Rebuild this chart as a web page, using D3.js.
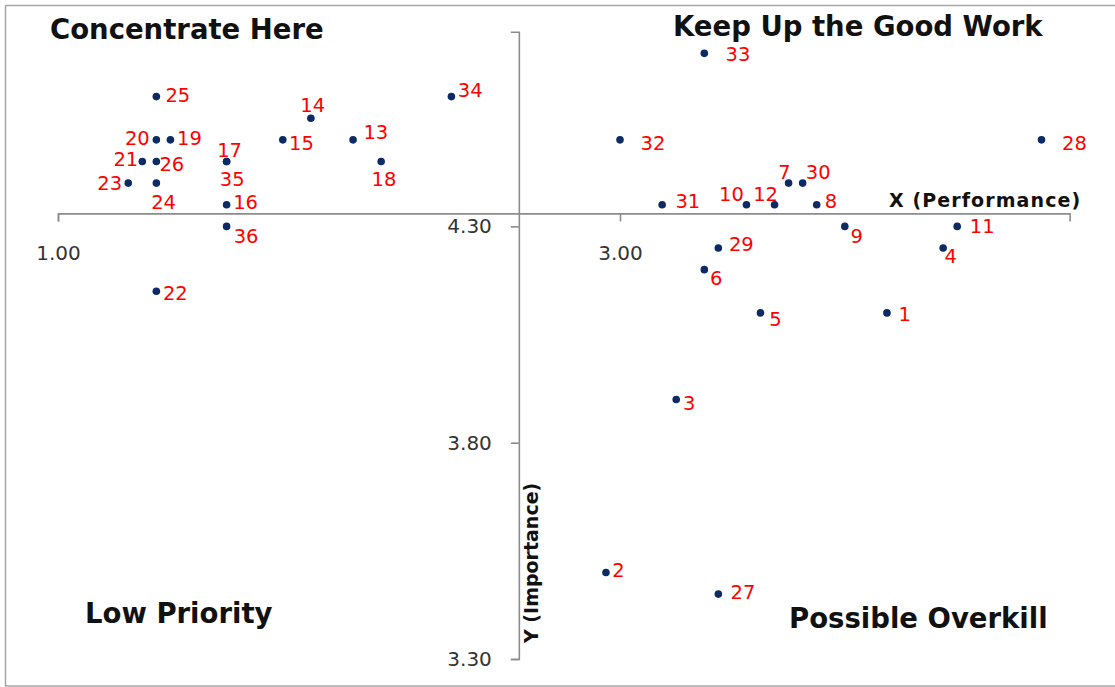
<!DOCTYPE html>
<html>
<head>
<meta charset="utf-8">
<script src="https://cdn.jsdelivr.net/npm/d3@7"></script>
<style>
  html, body { margin: 0; padding: 0; background: #fff; }
  svg { display: block; }
</style>
</head>
<body>
<div id="chart"></div>
<script>
// attribute number 1..36
const ids = d3.range(1, 37);
const performance = [3.95, 2.95, 3.20, 4.15, 3.50, 3.30, 3.60, 3.70, 3.80, 3.45, 4.20, 3.55,
                     2.05, 1.90, 1.80, 1.60, 1.60, 2.15, 1.40, 1.35, 1.30, 1.35, 1.25, 1.35,
                     1.35, 1.35, 3.35, 4.50, 3.35, 3.65, 3.15, 3.00, 3.30, 2.40, 1.60, 1.60];
const importance = [4.10, 3.50, 3.90, 4.25, 4.10, 4.20, 4.40, 4.35, 4.30, 4.35, 4.30, 4.35,
                    4.50, 4.55, 4.50, 4.35, 4.45, 4.45, 4.50, 4.50, 4.45, 4.15, 4.40, 4.40,
                    4.60, 4.45, 3.45, 4.50, 4.25, 4.40, 4.35, 4.50, 4.70, 4.60, 4.45, 4.30];

const xTicks = [1.0, 3.0];
const yTicks = [3.3, 3.8, 4.3];
const xDomain = [1.0, 4.6];
const yDomain = [3.3, 4.75];
const xCross = 2.64;   // performance value where the Y axis sits
const yCross = 4.33;   // importance value where the X axis sits

const quadrantNames = ["Concentrate Here", "Keep Up the Good Work", "Low Priority", "Possible Overkill"];
const xTitle = "X (Performance)";
const yTitle = "Y (Importance)";

// hand-placed label nudges (px) as in the original sheet
const labelOffset = {
  1: [17.7, 0.7], 2: [12.5, -2.3], 3: [13, 3.3], 4: [7.5, 8.3], 5: [15, 6], 6: [12, 8.6],
  7: [-4.2, -11], 8: [14.2, -4], 9: [12, 9.6], 10: [-15, -10.7], 11: [25, 0], 12: [-9, -10.7],
  13: [22.8, -7.6], 14: [1.8, -13.3], 15: [18.7, 3.4], 16: [19, -2.3], 17: [3, -12], 18: [2.8, 17],
  19: [19, -2.3], 20: [-19, -2.3], 21: [-16.5, -3], 22: [19, 1.7], 23: [-18.6, 0], 24: [7.2, 19],
  25: [21.5, -1.7], 26: [15.5, 2.7], 27: [24.6, -2.4], 28: [33, 3.4], 29: [23, -4], 30: [15.6, -11],
  31: [25.7, -4], 32: [33, 3.4], 33: [33.6, 1], 34: [18.8, -6.7], 35: [5.6, 17], 36: [19.5, 9.6]
};

const width = 1115;
const height = 687;
const font = "'DejaVu Sans', Verdana, sans-serif";

const points = ids.map((id, i) => ({ id, x: performance[i], y: importance[i] }));

const x = d3.scaleLinear().domain(xDomain).range([58, 1069.6]);
const y = d3.scaleLinear().domain(yDomain).range([659, 31.7]);

const svg = d3.select("#chart")
  .append("svg")
  .attr("width", width)
  .attr("height", height)
  .attr("viewBox", [0, 0, width, height]);

// outer frame
svg.append("rect")
  .attr("x", 5.5).attr("y", 5.5)
  .attr("width", 1120).attr("height", 680.5)
  .attr("fill", "#fff")
  .attr("stroke", "#a6a6a6")
  .attr("stroke-width", 1.5);

// X axis (crosses at yCross)
const gx = svg.append("g")
  .attr("transform", `translate(0,${y(yCross)})`)
  .call(d3.axisBottom(x).tickValues(xTicks).tickFormat(d3.format(".2f"))
    .tickSizeOuter(0).tickSize(8).tickPadding(24));

// Y axis (crosses at xCross)
const gy = svg.append("g")
  .attr("transform", `translate(${x(xCross)},0)`)
  .call(d3.axisLeft(y).tickValues(yTicks).tickFormat(d3.format(".2f"))
    .tickSizeOuter(0).tickSize(8).tickPadding(19));

[gx, gy].forEach(g => {
  g.select(".domain").attr("stroke", "#8c8c8c").attr("stroke-width", 1.6);
  g.selectAll(".tick line").attr("stroke", "#8c8c8c").attr("stroke-width", 1.6);
  g.selectAll(".tick text")
    .attr("font-family", font)
    .attr("font-size", 20)
    .attr("fill", "#333");
});

// axis titles
svg.append("text")
  .attr("x", 889).attr("y", 207)
  .attr("font-family", font).attr("font-size", 19).attr("font-weight", "bold")
  .attr("letter-spacing", 1.1)
  .attr("fill", "#111")
  .text(xTitle);

svg.append("text")
  .attr("transform", "translate(538,643) rotate(-90)")
  .attr("font-family", font).attr("font-size", 19).attr("font-weight", "bold")
  .attr("fill", "#111")
  .text(yTitle);

// quadrant names
const quadPos = [[50, 39.3], [673, 35.7], [85, 622.7], [789, 627.5]];
svg.append("g")
  .selectAll("text")
  .data(quadrantNames)
  .join("text")
  .attr("x", (d, i) => quadPos[i][0])
  .attr("y", (d, i) => quadPos[i][1])
  .attr("font-family", font)
  .attr("font-size", 27.5)
  .attr("font-weight", "bold")
  .attr("fill", "#111")
  .text(d => d);

// point labels
const labelSize = 19.5;
svg.append("g")
  .attr("font-family", font)
  .attr("font-size", labelSize)
  .attr("fill", "#ff0000")
  .attr("text-anchor", "middle")
  .selectAll("text")
  .data(points)
  .join("text")
  .attr("x", d => x(d.x) + labelOffset[d.id][0])
  .attr("y", d => y(d.y) + labelOffset[d.id][1] + 0.36 * labelSize)
  .text(d => d.id);

// points
svg.append("g")
  .attr("fill", "#0b2a66")
  .selectAll("circle")
  .data(points)
  .join("circle")
  .attr("cx", d => x(d.x))
  .attr("cy", d => y(d.y))
  .attr("r", 3.8);
</script>
</body>
</html>
